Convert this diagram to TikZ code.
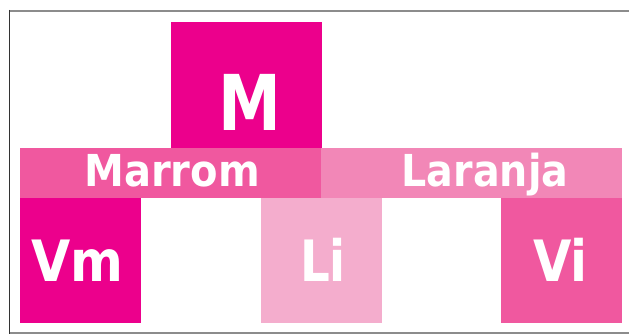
\documentclass[tikz,border=0pt]{standalone}
\usepackage{graphicx}
\usepackage{fontspec}
\setmainfont{DejaVu Sans}
\definecolor{cM}{HTML}{EC008C}
\definecolor{cMid}{HTML}{F0589F}
\definecolor{cLar}{HTML}{F287B7}
\definecolor{cLi}{HTML}{F4ADCD}
\newcommand{\sx}[2]{\scalebox{#1}[1]{#2}}
\begin{document}
\begin{tikzpicture}[x=1pt,y=-1pt,
  blk/.style={fill=#1,draw=none,inner sep=0pt,outer sep=0pt},
  lbl/.style={text=white,font=\bfseries\fontsize{#1}{#1}\selectfont,inner sep=0pt,anchor=base}]
\useasboundingbox (0,0) rectangle (629,334);
\fill[white] (0,0) rectangle (629,334);
% frame
\draw[line width=2pt,color=black!45] (9.5,11) -- (629,11);
\draw[line width=2pt,color=black!45] (9.5,333) -- (629,333);
\draw[line width=1.5pt,color=black!80] (9.5,10) -- (9.5,334);
% blocks
\node[blk=cM,minimum width=151pt,minimum height=126pt] (bM) at (246.5,85) {};
\node[blk=cMid,minimum width=301pt,minimum height=50pt] (bMar) at (170.5,173) {};
\node[blk=cLar,minimum width=301pt,minimum height=50pt] (bLar) at (471.5,173) {};
\node[blk=cM,minimum width=121pt,minimum height=125pt] (bVm) at (80.5,260.5) {};
\node[blk=cLi,minimum width=121pt,minimum height=125pt] (bLi) at (321.5,260.5) {};
\node[blk=cMid,minimum width=121pt,minimum height=125pt] (bVi) at (561.5,260.5) {};
% labels
\node[lbl=77] (tM) at (249.5,131) {\sx{0.82}{M}};
\node[lbl=44] (tMar) at (172,186.5) {\sx{0.91}{Marrom}};
\node[lbl=44] (tLar) at (485,186.5) {\sx{0.90}{Laranja}};
\node[lbl=57] (tVm) at (77.5,281.5) {\sx{0.89}{Vm}};
\node[lbl=57] (tLi) at (323,281.5) {\sx{0.82}{Li}};
\node[lbl=57] (tVi) at (560.5,281.5) {\sx{0.87}{Vi}};
\end{tikzpicture}
\end{document}
